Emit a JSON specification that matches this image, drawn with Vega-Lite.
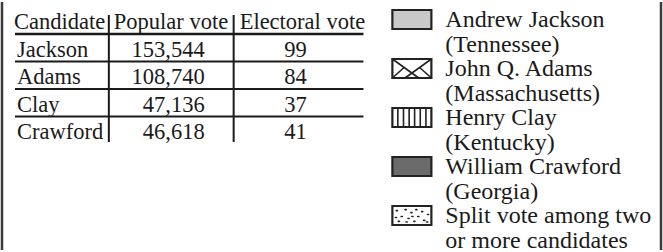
{
  "$schema": "https://vega.github.io/schema/vega-lite/v6.json",
  "width": 663,
  "height": 252,
  "autosize": {"type": "fit", "contains": "padding"},
  "padding": 0,
  "background": "#ffffff",
  "config": {
    "view": {"stroke": null},
    "text": {"font": "Liberation Serif", "fontSize": 24, "fill": "#1a1a1a", "baseline": "alphabetic"}
  },
  "resolve": {"scale": {"y": "independent"}},
  "layer": [
    {
      "data": {"values": [{}]},
      "mark": {"type": "rule", "stroke": "#3a3a3a", "strokeWidth": 2.5},
      "encoding": {
        "x": {"datum": 1, "type": "quantitative", "scale": {"domain": [0, 663], "nice": false, "zero": false}, "axis": null}
      }
    },
    {
      "data": {"values": [{}]},
      "mark": {"type": "rule", "stroke": "#3a3a3a", "strokeWidth": 2.5},
      "encoding": {
        "x": {"datum": 661, "type": "quantitative", "scale": {"domain": [0, 663], "nice": false, "zero": false}, "axis": null}
      }
    },
    {
      "data": {"values": [
        {"candidate": "Jackson", "popular": 153544, "electoral": 99},
        {"candidate": "Adams", "popular": 108740, "electoral": 84},
        {"candidate": "Clay", "popular": 47136, "electoral": 37},
        {"candidate": "Crawford", "popular": 46618, "electoral": 41}
      ]},
      "layer": [
        {
          "data": {"values": [{}]},
          "mark": {"type": "text", "align": "left", "fontSize": 22.5},
          "encoding": {
            "x": {"datum": 13, "type": "quantitative", "scale": {"domain": [0, 663], "nice": false, "zero": false}, "axis": null},
            "y": {"datum": "header", "type": "ordinal", "scale": {"type": "point", "domain": ["header", "Jackson", "Adams", "Clay", "Crawford"], "range": [27, 137], "padding": 0}, "axis": null},
            "text": {"datum": "Candidate"}
          }
        },
        {
          "data": {"values": [{}]},
          "mark": {"type": "text", "align": "left", "fontSize": 22.5},
          "encoding": {
            "x": {"datum": 113, "type": "quantitative", "scale": {"domain": [0, 663], "nice": false, "zero": false}, "axis": null},
            "y": {"datum": "header", "type": "ordinal", "axis": null},
            "text": {"datum": "Popular vote"}
          }
        },
        {
          "data": {"values": [{}]},
          "mark": {"type": "text", "align": "left", "fontSize": 22.5},
          "encoding": {
            "x": {"datum": 239, "type": "quantitative", "scale": {"domain": [0, 663], "nice": false, "zero": false}, "axis": null},
            "y": {"datum": "header", "type": "ordinal", "axis": null},
            "text": {"datum": "Electoral vote"}
          }
        },
        {
          "mark": {"type": "text", "align": "left", "fontSize": 22.5},
          "encoding": {
            "x": {"datum": 16, "type": "quantitative", "scale": {"domain": [0, 663], "nice": false, "zero": false}, "axis": null},
            "y": {"field": "candidate", "type": "ordinal", "axis": null},
            "text": {"field": "candidate"}
          }
        },
        {
          "mark": {"type": "text", "align": "right", "fontSize": 22.5},
          "encoding": {
            "x": {"datum": 204, "type": "quantitative", "scale": {"domain": [0, 663], "nice": false, "zero": false}, "axis": null},
            "y": {"field": "candidate", "type": "ordinal", "axis": null},
            "text": {"field": "popular", "type": "quantitative", "format": ","}
          }
        },
        {
          "mark": {"type": "text", "align": "center", "fontSize": 22.5},
          "encoding": {
            "x": {"datum": 295, "type": "quantitative", "scale": {"domain": [0, 663], "nice": false, "zero": false}, "axis": null},
            "y": {"field": "candidate", "type": "ordinal", "axis": null},
            "text": {"field": "electoral", "type": "quantitative"}
          }
        },
        {
          "transform": [{"filter": "datum.candidate != 'Crawford'"}],
          "mark": {"type": "rule", "stroke": "#1a1a1a", "strokeWidth": 2.2, "yOffset": 5},
          "encoding": {
            "x": {"datum": 14, "type": "quantitative", "scale": {"domain": [0, 663], "nice": false, "zero": false}, "axis": null},
            "x2": {"datum": 363},
            "y": {"field": "candidate", "type": "ordinal", "axis": null}
          }
        },
        {
          "data": {"values": [{}]},
          "mark": {"type": "rule", "stroke": "#1a1a1a", "strokeWidth": 2.6, "yOffset": 5},
          "encoding": {
            "x": {"datum": 14, "type": "quantitative", "scale": {"domain": [0, 663], "nice": false, "zero": false}, "axis": null},
            "x2": {"datum": 363},
            "y": {"datum": "header", "type": "ordinal", "axis": null}
          }
        },
        {
          "data": {"values": [{}]},
          "mark": {"type": "rule", "stroke": "#1a1a1a", "strokeWidth": 2, "yOffset": -14, "y2Offset": 3},
          "encoding": {
            "x": {"datum": 108, "type": "quantitative", "scale": {"domain": [0, 663], "nice": false, "zero": false}, "axis": null},
            "y": {"datum": "header", "type": "ordinal", "axis": null},
            "y2": {"datum": "Crawford"}
          }
        },
        {
          "data": {"values": [{}]},
          "mark": {"type": "rule", "stroke": "#1a1a1a", "strokeWidth": 2, "yOffset": -14, "y2Offset": 3},
          "encoding": {
            "x": {"datum": 233, "type": "quantitative", "scale": {"domain": [0, 663], "nice": false, "zero": false}, "axis": null},
            "y": {"datum": "header", "type": "ordinal", "axis": null},
            "y2": {"datum": "Crawford"}
          }
        }
      ]
    },
    {
      "data": {"values": [
        {"key": "Jackson", "label": "Andrew Jackson\n(Tennessee)"},
        {"key": "Adams", "label": "John Q. Adams\n(Massachusetts)"},
        {"key": "Clay", "label": "Henry Clay\n(Kentucky)"},
        {"key": "Crawford", "label": "William Crawford\n(Georgia)"},
        {"key": "Split", "label": "Split vote among two\nor more candidates"}
      ]},
      "layer": [
        {
          "mark": {"type": "text", "align": "left", "lineBreak": "\n", "lineHeight": 24.5},
          "encoding": {
            "x": {"datum": 445, "type": "quantitative", "scale": {"domain": [0, 663], "nice": false, "zero": false}, "axis": null},
            "y": {"field": "key", "type": "ordinal", "scale": {"type": "point", "domain": ["Jackson", "Adams", "Clay", "Crawford", "Split"], "range": [25, 221], "padding": 0}, "axis": null},
            "text": {"field": "label"}
          }
        },
        {
          "mark": {"type": "point", "shape": "M-1,-0.487H1V0.487H-1Z", "size": 1521, "stroke": "#222222", "strokeWidth": 2.2, "opacity": 1, "fillOpacity": 1, "yOffset": -7.5},
          "encoding": {
            "x": {"datum": 411.5, "type": "quantitative", "scale": {"domain": [0, 663], "nice": false, "zero": false}, "axis": null},
            "y": {"field": "key", "type": "ordinal", "axis": null},
            "fill": {"field": "key", "type": "nominal", "scale": {"domain": ["Jackson", "Adams", "Clay", "Crawford", "Split"], "range": ["#c9c9c9", "#ffffff", "#ffffff", "#6b6b6b", "#ffffff"]}, "legend": null}
          }
        },
        {
          "transform": [{"filter": "datum.key == 'Adams' || datum.key == 'Clay' || datum.key == 'Split'"}],
          "mark": {"type": "point", "size": 1521, "filled": false, "stroke": "#222222", "strokeWidth": 1.6, "strokeCap": "round", "opacity": 1, "yOffset": -7.5},
          "encoding": {
            "x": {"datum": 411.5, "type": "quantitative", "scale": {"domain": [0, 663], "nice": false, "zero": false}, "axis": null},
            "y": {"field": "key", "type": "ordinal", "axis": null},
            "shape": {"field": "key", "type": "nominal", "scale": {"domain": ["Adams", "Clay", "Split"], "range": [
              "M-1,-0.487L0.35,0.487M1,-0.487L-0.35,0.487M-1,0.487L-0.4,-0.05M1,0.487L0.4,-0.05",
              "M-0.72,-0.487V0.487M-0.43,-0.487V0.487M-0.14,-0.487V0.487M0.14,-0.487V0.487M0.43,-0.487V0.487M0.72,-0.487V0.487",
              "M-0.8,-0.25l0.06,0M-0.55,0.05l0.06,0M-0.7,0.3l0.06,0M-0.35,-0.3l0.06,0M-0.2,0.15l0.06,0M-0.05,-0.15l0.06,0M0.1,0.3l0.06,0M0.2,-0.3l0.06,0M0.3,0.05l0.06,0M0.5,-0.2l0.06,0M0.6,0.25l0.06,0M0.8,-0.05l0.06,0M-0.85,0.1l0.06,0M0.75,0.33l0.06,0M-0.3,0.33l0.06,0M0,0.05l0.06,0"
            ]}, "legend": null}
          }
        }
      ]
    }
  ]
}
